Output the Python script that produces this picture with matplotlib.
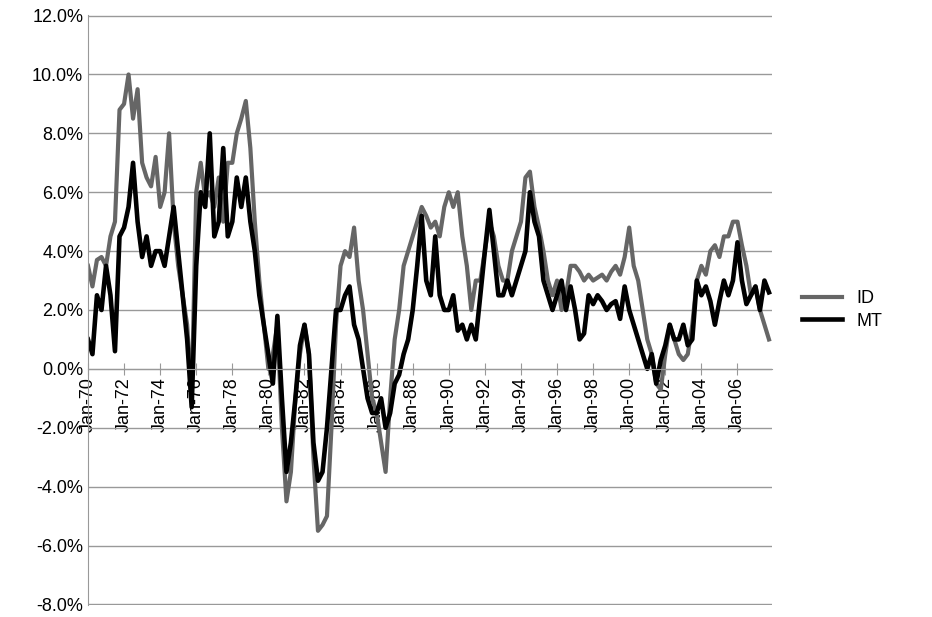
import numpy as np
import pandas as pd
import matplotlib.pyplot as plt
import matplotlib.dates as mdates
from matplotlib.ticker import PercentFormatter

plt.rcParams['font.family'] = ['Liberation Sans', 'DejaVu Sans']
plt.rcParams['axes.unicode_minus'] = False

# quarterly readings, 1970Q1 .. 2007Q4 (percent)
id_vals = [3.5, 2.8, 3.7, 3.8, 3.5, 4.5, 5.0, 8.8, 9.0, 10.0, 8.5, 9.5,
           7.0, 6.5, 6.2, 7.2, 5.5, 6.0, 8.0, 5.0, 3.5, 2.5, 1.5, -1.0,
           6.0, 7.0, 5.8, 6.0, 5.5, 6.5, 5.0, 7.0, 7.0, 8.0, 8.5, 9.1,
           7.5, 5.0, 3.0, 1.5, 0.0, 0.5, 1.5, -2.0, -4.5, -3.5, -1.0, 0.5,
           1.5, 0.5, -3.0, -5.5, -5.3, -5.0, -2.0, 1.5, 3.5, 4.0, 3.8, 4.8,
           3.0, 2.0, 0.5, -1.0, -1.5, -2.5, -3.5, -1.0, 1.0, 2.0, 3.5, 4.0,
           4.5, 5.0, 5.5, 5.2, 4.8, 5.0, 4.5, 5.5, 6.0, 5.5, 6.0, 4.5,
           3.5, 2.0, 3.0, 3.0, 4.0, 5.0, 4.5, 3.5, 3.0, 3.0, 4.0, 4.5,
           5.0, 6.5, 6.7, 5.5, 4.8, 4.0, 3.0, 2.5, 3.0, 2.0, 2.5, 3.5,
           3.5, 3.3, 3.0, 3.2, 3.0, 3.1, 3.2, 3.0, 3.3, 3.5, 3.2, 3.8,
           4.8, 3.5, 3.0, 2.0, 1.0, 0.5, -0.5, -0.7, 0.5, 1.5, 1.0, 0.5,
           0.3, 0.5, 1.5, 3.0, 3.5, 3.2, 4.0, 4.2, 3.8, 4.5, 4.5, 5.0,
           5.0, 4.2, 3.5, 2.5, 2.8, 2.0, 1.5, 1.0]
mt_vals = [1.0, 0.5, 2.5, 2.0, 3.5, 2.5, 0.6, 4.5, 4.8, 5.5, 7.0, 5.0,
           3.8, 4.5, 3.5, 4.0, 4.0, 3.5, 4.5, 5.5, 4.0, 2.5, 1.0, -1.3,
           3.5, 6.0, 5.5, 8.0, 4.5, 5.0, 7.5, 4.5, 5.0, 6.5, 5.5, 6.5,
           5.0, 4.0, 2.5, 1.5, 0.5, -0.5, 1.8, -1.0, -3.5, -2.5, -1.0, 0.8,
           1.5, 0.5, -2.5, -3.8, -3.5, -2.0, 0.0, 2.0, 2.0, 2.5, 2.8, 1.5,
           1.0, 0.0, -1.0, -1.5, -1.5, -1.0, -2.0, -1.5, -0.5, -0.2, 0.5, 1.0,
           2.0, 3.5, 5.2, 3.0, 2.5, 4.5, 2.5, 2.0, 2.0, 2.5, 1.3, 1.5,
           1.0, 1.5, 1.0, 2.5, 4.0, 5.4, 4.0, 2.5, 2.5, 3.0, 2.5, 3.0,
           3.5, 4.0, 6.0, 5.0, 4.5, 3.0, 2.5, 2.0, 2.5, 3.0, 2.0, 2.8,
           2.0, 1.0, 1.2, 2.5, 2.2, 2.5, 2.3, 2.0, 2.2, 2.3, 1.7, 2.8,
           2.0, 1.5, 1.0, 0.5, 0.0, 0.5, -0.5, 0.3, 0.8, 1.5, 1.0, 1.0,
           1.5, 0.8, 1.0, 3.0, 2.5, 2.8, 2.3, 1.5, 2.3, 3.0, 2.5, 3.0,
           4.3, 3.0, 2.2, 2.5, 2.8, 2.0, 3.0, 2.6]

dates = pd.date_range('1970-01-01', periods=len(id_vals), freq='QS')

fig = plt.figure(figsize=(9.32, 6.17), dpi=100)
ax = fig.add_axes([88/932, 1-605/617, (772-88)/932, 590/617])
ax.plot(dates, np.array(id_vals)/100, color='#666666', lw=3, label='ID')
ax.plot(dates, np.array(mt_vals)/100, color='black', lw=3.3, label='MT')

ax.set_ylim(-0.0802, 0.1202)
ax.set_yticks(np.arange(-0.08, 0.121, 0.02))
ax.yaxis.set_major_formatter(PercentFormatter(1.0, decimals=1))
ax.set_xlim(pd.Timestamp('1970-01-01'), pd.Timestamp('2007-12-01'))
ax.xaxis.set_major_locator(mdates.YearLocator(2))
ax.xaxis.set_major_formatter(mdates.DateFormatter('Jan-%y'))
ax.grid(axis='y', color='#999999', lw=1)
ax.set_axisbelow(True)
for s in ['top', 'right']:
    ax.spines[s].set_visible(False)
ax.spines['left'].set_color('#999999')
ax.spines['bottom'].set_position(('data', 0))
ax.spines['bottom'].set_color('#999999')
ax.tick_params(axis='x', direction='inout', length=8, color='#999999',
               labelrotation=90, labelsize=13, pad=2)
ax.tick_params(axis='y', length=0, labelsize=13)
ax.legend(loc='center left', bbox_to_anchor=(1.02, 0.5), frameon=False,
          fontsize=13, handlelength=2.2, labelspacing=0.3)
fig.savefig('out.png', dpi=100)
